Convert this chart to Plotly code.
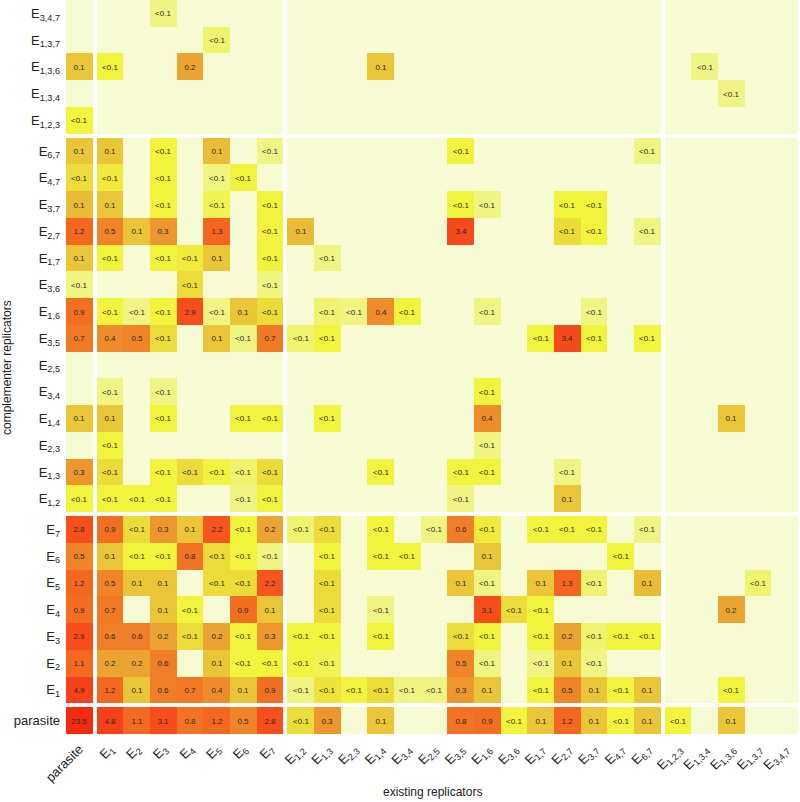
import math
import plotly.graph_objects as go

# ---------------- data ----------------
tick_labels = [
    "parasite",
    "E<sub>1</sub>", "E<sub>2</sub>", "E<sub>3</sub>", "E<sub>4</sub>", "E<sub>5</sub>", "E<sub>6</sub>", "E<sub>7</sub>",
    "E<sub>1,2</sub>", "E<sub>1,3</sub>", "E<sub>2,3</sub>", "E<sub>1,4</sub>", "E<sub>3,4</sub>", "E<sub>2,5</sub>",
    "E<sub>3,5</sub>", "E<sub>1,6</sub>", "E<sub>3,6</sub>", "E<sub>1,7</sub>", "E<sub>2,7</sub>", "E<sub>3,7</sub>",
    "E<sub>4,7</sub>", "E<sub>6,7</sub>",
    "E<sub>1,2,3</sub>", "E<sub>1,3,4</sub>", "E<sub>1,3,6</sub>", "E<sub>1,3,7</sub>", "E<sub>3,4,7</sub>",
]
group_sizes = [1, 7, 14, 5]

# rows = complementer replicators (bottom to top), columns = existing replicators
# 0 means no value (empty cell); values below 0.1 are shown as "<0.1"
row_parasite = [23.5, 4.8, 1.1, 3.1, 0.8, 1.2, 0.5, 2.8, 0.07, 0.3, 0, 0.1, 0, 0, 0.8, 0.9, 0.04, 0.1, 1.2, 0.1, 0.04, 0.1, 0.04, 0, 0.1, 0, 0]
row_E1 = [4.9, 1.2, 0.1, 0.6, 0.7, 0.4, 0.1, 0.9, 0.015, 0.06, 0.04, 0.07, 0.015, 0.015, 0.3, 0.1, 0, 0.04, 0.5, 0.1, 0.04, 0.1, 0, 0, 0.04, 0, 0]
row_E2 = [1.1, 0.2, 0.2, 0.6, 0, 0.1, 0.04, 0.04, 0.04, 0.03, 0, 0, 0, 0, 0.5, 0.015, 0, 0.015, 0.1, 0.015, 0, 0, 0, 0, 0, 0, 0]
row_E3 = [2.9, 0.6, 0.6, 0.2, 0.07, 0.2, 0.04, 0.3, 0.04, 0.04, 0, 0.04, 0, 0, 0.07, 0.04, 0, 0.04, 0.2, 0.02, 0.04, 0.04, 0, 0, 0, 0, 0]
row_E4 = [0.9, 0.7, 0, 0.1, 0.04, 0, 0.9, 0.1, 0, 0.07, 0, 0.015, 0, 0, 0, 3.1, 0.07, 0.04, 0, 0, 0, 0, 0, 0, 0.2, 0, 0]
row_E5 = [1.2, 0.5, 0.1, 0.1, 0, 0.07, 0.07, 2.2, 0, 0.07, 0, 0, 0, 0, 0.1, 0.015, 0, 0.1, 1.3, 0.02, 0, 0.12, 0, 0, 0, 0.02, 0]
row_E6 = [0.5, 0.1, 0.04, 0.04, 0.8, 0.07, 0.04, 0.015, 0, 0.04, 0, 0.04, 0.04, 0, 0, 0.1, 0, 0, 0, 0, 0.04, 0, 0, 0, 0, 0, 0]
row_E7 = [2.8, 0.9, 0.07, 0.3, 0.1, 2.2, 0.04, 0.2, 0.02, 0.07, 0, 0.04, 0, 0.015, 0.6, 0.05, 0, 0.04, 0.04, 0.04, 0, 0.015, 0, 0, 0, 0, 0]
row_E12 = [0.04, 0.04, 0.04, 0.04, 0, 0, 0.015, 0.04, 0, 0, 0, 0, 0, 0, 0.015, 0, 0, 0, 0.1, 0, 0, 0, 0, 0, 0, 0, 0]
row_E13 = [0.3, 0.07, 0, 0.04, 0.07, 0.04, 0.02, 0.07, 0, 0, 0, 0.04, 0, 0, 0.04, 0.04, 0, 0, 0.015, 0, 0, 0, 0, 0, 0, 0, 0]
row_E23 = [0, 0.04, 0, 0, 0, 0, 0, 0, 0, 0, 0, 0, 0, 0, 0, 0.015, 0, 0, 0, 0, 0, 0, 0, 0, 0, 0, 0]
row_E14 = [0.1, 0.1, 0, 0.04, 0, 0, 0.04, 0.04, 0, 0.04, 0, 0, 0, 0, 0, 0.4, 0, 0, 0, 0, 0, 0, 0, 0, 0.1, 0, 0]
row_E34 = [0, 0.015, 0, 0.015, 0, 0, 0, 0, 0, 0, 0, 0, 0, 0, 0, 0.04, 0, 0, 0, 0, 0, 0, 0, 0, 0, 0, 0]
row_E25 = [0, 0, 0, 0, 0, 0, 0, 0, 0, 0, 0, 0, 0, 0, 0, 0, 0, 0, 0, 0, 0, 0, 0, 0, 0, 0, 0]
row_E35 = [0.7, 0.4, 0.5, 0.07, 0, 0.1, 0.015, 0.7, 0.02, 0.04, 0, 0, 0, 0, 0, 0, 0, 0.04, 3.4, 0.04, 0, 0.04, 0, 0, 0, 0, 0]
row_E16 = [0.9, 0.04, 0.015, 0.04, 2.9, 0.015, 0.1, 0.07, 0, 0.02, 0.015, 0.4, 0.04, 0, 0, 0.015, 0, 0, 0, 0.015, 0, 0, 0, 0, 0, 0, 0]
row_E36 = [0.015, 0, 0, 0, 0.07, 0, 0, 0.015, 0, 0, 0, 0, 0, 0, 0, 0, 0, 0, 0, 0, 0, 0, 0, 0, 0, 0, 0]
row_E17 = [0.1, 0.04, 0, 0.04, 0.05, 0.1, 0, 0.04, 0, 0.015, 0, 0, 0, 0, 0, 0, 0, 0, 0, 0, 0, 0, 0, 0, 0, 0, 0]
row_E27 = [1.2, 0.5, 0.1, 0.3, 0, 1.3, 0, 0.04, 0.12, 0, 0, 0, 0, 0, 3.4, 0, 0, 0, 0.07, 0.04, 0, 0.015, 0, 0, 0, 0, 0]
row_E37 = [0.12, 0.1, 0, 0.04, 0, 0.03, 0, 0.04, 0, 0, 0, 0, 0, 0, 0.04, 0.015, 0, 0, 0.04, 0.04, 0, 0, 0, 0, 0, 0, 0]
row_E47 = [0.07, 0.05, 0, 0.04, 0, 0.015, 0.04, 0, 0, 0, 0, 0, 0, 0, 0, 0, 0, 0, 0, 0, 0, 0, 0, 0, 0, 0, 0]
row_E67 = [0.1, 0.1, 0, 0.04, 0, 0.12, 0, 0.015, 0, 0, 0, 0, 0, 0, 0.04, 0, 0, 0, 0, 0, 0, 0.015, 0, 0, 0, 0, 0]
row_E123 = [0.04, 0, 0, 0, 0, 0, 0, 0, 0, 0, 0, 0, 0, 0, 0, 0, 0, 0, 0, 0, 0, 0, 0, 0, 0, 0, 0]
row_E134 = [0, 0, 0, 0, 0, 0, 0, 0, 0, 0, 0, 0, 0, 0, 0, 0, 0, 0, 0, 0, 0, 0, 0, 0, 0.015, 0, 0]
row_E136 = [0.1, 0.04, 0, 0, 0.2, 0, 0, 0, 0, 0, 0, 0.1, 0, 0, 0, 0, 0, 0, 0, 0, 0, 0, 0, 0.015, 0, 0, 0]
row_E137 = [0, 0, 0, 0, 0, 0.02, 0, 0, 0, 0, 0, 0, 0, 0, 0, 0, 0, 0, 0, 0, 0, 0, 0, 0, 0, 0, 0]
row_E347 = [0, 0, 0, 0.015, 0, 0, 0, 0, 0, 0, 0, 0, 0, 0, 0, 0, 0, 0, 0, 0, 0, 0, 0, 0, 0, 0, 0]

rows = [row_parasite, row_E1, row_E2, row_E3, row_E4, row_E5, row_E6, row_E7,
        row_E12, row_E13, row_E23, row_E14, row_E34, row_E25, row_E35, row_E16,
        row_E36, row_E17, row_E27, row_E37, row_E47, row_E67,
        row_E123, row_E134, row_E136, row_E137, row_E347]

# ---------------- geometry (cells + white gaps between groups) ----------------
GAP = 0.15
EMPTY = -2.6
ZMAX = 1.4


def build_slots(sizes):
    """Return list of (index or None for gap) and brick edges."""
    slots, edges = [], [0.0]
    k = 0
    for gi, n in enumerate(sizes):
        if gi > 0:
            slots.append(None)
            edges.append(edges[-1] + GAP)
        for _ in range(n):
            slots.append(k)
            edges.append(edges[-1] + 1.0)
            k += 1
    return slots, edges


slots, edges = build_slots(group_sizes)
centers = [(edges[i] + edges[i + 1]) / 2 for i, s in enumerate(slots) if s is not None]


def label(v):
    if v <= 0:
        return ""
    if v < 0.1:
        return "<0.1"
    return f"{v:.1f}"


z, txt = [], []
for rs in slots:
    zr, tr = [], []
    for cs in slots:
        if rs is None or cs is None:
            zr.append(None)
            tr.append("")
        else:
            v = rows[rs][cs]
            zr.append(math.log10(v) if v > 0 else EMPTY)
            tr.append(label(v))
    z.append(zr)
    txt.append(tr)

stops = [(-2.6, "#F6FBD3"), (-2.15, "#F6FBD3"), (-2.0, "#F1F5A0"), (-1.7, "#F0F36E"),
         (-1.4, "#F1F33C"), (-1.15, "#EBDC3A"), (-1.0, "#EAC537"), (-0.7, "#EBA431"),
         (-0.4, "#EE8C2B"), (-0.2, "#F07B26"), (0.0, "#F36C21"), (0.4, "#F7521C"),
         (0.7, "#F5401A"), (1.4, "#F52A10")]
colorscale = [[(v - EMPTY) / (ZMAX - EMPTY), c] for v, c in stops]

fig = go.Figure(go.Heatmap(
    x=edges, y=edges, z=z, text=txt, texttemplate="%{text}",
    textfont=dict(size=8, color="#2a2a2a", family="Arial"),
    colorscale=colorscale, zmin=EMPTY, zmax=ZMAX, showscale=False,
    hoverinfo="skip",
))

axis_common = dict(showgrid=False, zeroline=False, showline=False, ticks="",
                   tickvals=centers, ticktext=tick_labels,
                   tickfont=dict(size=13, color="#222", family="Arial"),
                   range=[edges[0], edges[-1]], fixedrange=True)
fig.update_xaxes(**axis_common, tickangle=-45, ticklabelstandoff=4)
fig.update_yaxes(**axis_common, ticklabelstandoff=5)

fig.update_layout(
    width=800, height=802,
    margin=dict(l=66, r=2, t=0, b=68),
    plot_bgcolor="white", paper_bgcolor="white",
    font=dict(family="Arial"),
    annotations=[
        dict(text="existing replicators", xref="paper", yref="paper", x=0.5, y=-58 / 734,
             xanchor="center", yanchor="middle", showarrow=False,
             font=dict(size=12, color="#222")),
        dict(text="complementer replicators", xref="paper", yref="paper", x=-59 / 732, y=0.5,
             xanchor="center", yanchor="middle", textangle=-90, showarrow=False,
             font=dict(size=12, color="#222")),
    ],
)

fig.write_html("out.html")
